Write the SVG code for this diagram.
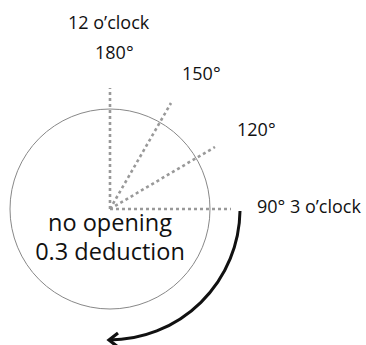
<svg xmlns="http://www.w3.org/2000/svg" width="366" height="345" viewBox="0 0 366 345">
<style>
.lbl{font-family:"Open Sans","Liberation Sans",sans-serif;font-size:18px;fill:#111}
.big{font-family:"Open Sans","Liberation Sans",sans-serif;font-size:23.5px;fill:#111;text-anchor:middle}
.dash{stroke:#999;stroke-width:2.6;stroke-dasharray:3 3;fill:none}
</style>
<defs>
<marker id="ah" markerUnits="userSpaceOnUse" markerWidth="20" markerHeight="20" refX="0" refY="0" viewBox="-14 -10 20 20" orient="auto">
<path d="M-9,-7 L0,0 L-9,7" fill="none" stroke="#111" stroke-width="3.2" stroke-linejoin="miter"/>
</marker>
</defs>
<rect width="366" height="345" fill="#fff"/>
<g id="clock">
<circle cx="110" cy="209" r="100" fill="none" stroke="#888" stroke-width="1"/>
</g>
<g id="connectors">
<line class="dash" x1="110" y1="209" x2="110" y2="88"/>
<line class="dash" x1="110" y1="209" x2="171" y2="103"/>
<line class="dash" x1="110" y1="209" x2="215" y2="147"/>
<line class="dash" x1="110" y1="209" x2="231" y2="209"/>
<path d="M240,211 A131,131 0 0 1 109,340" fill="none" stroke="#111" stroke-width="3" marker-end="url(#ah)"/>
</g>
<g id="labels">
<text class="lbl" x="68" y="29">12 o’clock</text>
<text class="lbl" x="95" y="59">180°</text>
<text class="lbl" x="182" y="80">150°</text>
<text class="lbl" x="237" y="136">120°</text>
<text class="lbl" x="257" y="213">90° 3 o’clock</text>
<text class="big" x="110" y="231">no opening</text>
<text class="big" x="110" y="260">0.3 deduction</text>
</g>
</svg>
